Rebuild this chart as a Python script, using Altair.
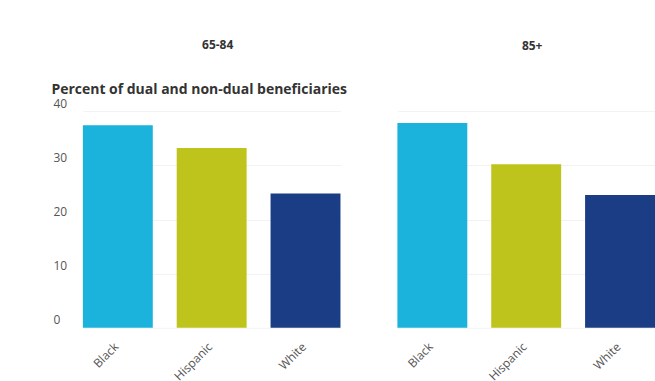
import altair as alt
import pandas as pd

races = ["Black", "Hispanic", "White"]
pct_65_84 = [37.4, 33.2, 24.8]
pct_85_plus = [37.8, 30.2, 24.5]
panel_titles = ["65-84", "85+"]
colors = ["#1bb3dc", "#bec41c", "#1a3d85"]
y_ticks = [0, 10, 20, 30, 40]

FONT = "Open Sans"
PLOT_W = 258
PLOT_H = 217


def panel(title, values, show_y):
    df = pd.DataFrame({"race": races, "pct": values})
    if show_y:
        yaxis = alt.Axis(
            values=y_ticks, grid=True, gridColor="#f2f2f2", domain=False, ticks=False,
            labelAlign="left", labelPadding=30, labelBaseline="middle", labelOffset=-8,
            labelColor="#555555", labelFontSize=12, labelFont=FONT,
            title="Percent of dual and non-dual beneficiaries", titleAngle=0,
            titleAlign="left", titleBaseline="middle", titleX=-32, titleY=-22,
            titleFont=FONT, titleFontSize=14, titleFontWeight="bold", titleColor="#333333",
        )
        offset = 30
    else:
        yaxis = alt.Axis(
            values=y_ticks, grid=True, gridColor="#f2f2f2", domain=False, ticks=False,
            labels=False, title=None,
        )
        offset = 58
    return (
        alt.Chart(df)
        .mark_bar()
        .encode(
            x=alt.X(
                "race:N", sort=races,
                scale=alt.Scale(paddingInner=0.255, paddingOuter=0),
                axis=alt.Axis(
                    labelAngle=-45, domain=False, ticks=False, labelPadding=13,
                    labelOffset=-5,
                    labelFontSize=12, labelFont=FONT, labelColor="#555555", title=None,
                ),
            ),
            y=alt.Y("pct:Q", scale=alt.Scale(domain=[0, 40], nice=False), axis=yaxis),
            color=alt.Color("race:N", scale=alt.Scale(domain=races, range=colors), legend=None),
        )
        .properties(
            width=PLOT_W, height=PLOT_H,
            title=alt.TitleParams(
                text=title, frame="group", anchor="middle", offset=offset, dx=6,
                fontSize=12, fontWeight="bold", color="#333333", font=FONT,
            ),
        )
    )


chart = (
    alt.hconcat(
        panel(panel_titles[0], pct_65_84, True),
        panel(panel_titles[1], pct_85_plus, False),
        spacing=57,
        bounds="flush",
    )
    .properties(padding={"left": 51, "top": 39, "right": 0, "bottom": 0}, background="white")
    .configure_view(stroke=None)
)

chart.save("out.html", embed_options={"renderer": "svg", "actions": False})
